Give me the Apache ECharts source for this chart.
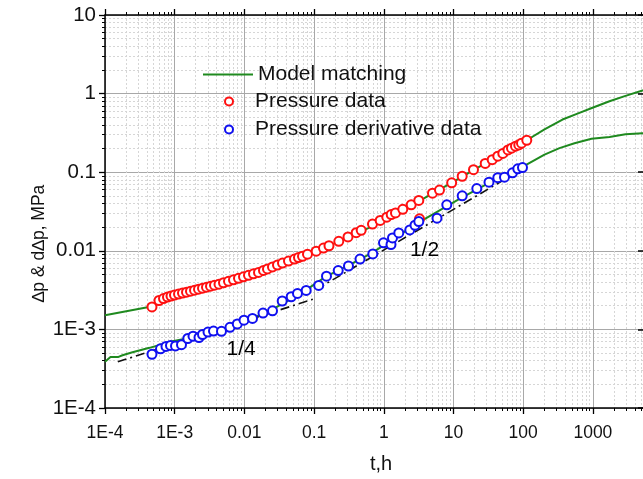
<!DOCTYPE html>
<html><head><meta charset="utf-8">
<script src="https://cdn.jsdelivr.net/npm/echarts@6/dist/echarts.min.js"></script>
<style>html,body{margin:0;padding:0;background:#fff}#c{width:643px;height:479px}</style>
</head><body><div id="c"></div>
<script>
// ---- data ----
const pressureT = [4.72e-4, 5.95e-4, 6.91e-4, 7.88e-4, 8.85e-4, 9.93e-4, 1.134e-3, 1.294e-3, 1.477e-3, 1.685e-3,
  1.924e-3, 2.196e-3, 2.506e-3, 2.859e-3, 3.263e-3, 3.724e-3, 4.321e-3, 5.013e-3, 5.913e-3, 6.977e-3,
  8.23e-3, 9.71e-3, 1.145e-2, 1.351e-2, 1.594e-2, 1.879e-2, 2.145e-2, 2.53e-2, 2.985e-2, 3.521e-2,
  4.292e-2, 5.234e-2, 5.973e-2, 6.818e-2, 8.04e-2, 0.1072, 0.1364, 0.1636, 0.2262, 0.3065,
  0.4018, 0.474, 0.6884, 0.8879, 1.104, 1.277, 1.472, 1.873, 2.473, 3.178,
  3.252, 4.996, 6.297, 9.42, 13.33, 19.36, 28.5, 35.92, 43.21, 50.97,
  60.53, 67.94, 77.53, 86.48, 94.54, 112.6];
const pressureP = [1.932e-3, 2.332e-3, 2.47e-3, 2.58e-3, 2.655e-3, 2.733e-3, 2.813e-3, 2.895e-3, 2.98e-3, 3.068e-3,
  3.158e-3, 3.25e-3, 3.346e-3, 3.444e-3, 3.545e-3, 3.649e-3, 3.756e-3, 3.922e-3, 4.095e-3, 4.276e-3,
  4.466e-3, 4.664e-3, 4.871e-3, 5.087e-3, 5.312e-3, 5.628e-3, 5.877e-3, 6.226e-3, 6.596e-3, 6.988e-3,
  7.403e-3, 7.843e-3, 8.19e-3, 8.5e-3, 9.06e-3, 9.88e-3, 1.084e-2, 1.159e-2, 1.32e-2, 1.503e-2,
  1.702e-2, 1.824e-2, 2.188e-2, 2.434e-2, 2.679e-2, 2.895e-2, 3.032e-2, 3.374e-2, 3.843e-2, 4.378e-2,
  2.55e-2, 5.4e-2, 5.93e-2, 7.32e-2, 8.88e-2, 0.1078, 0.1293, 0.1443, 0.1597, 0.1732,
  0.1921, 0.2024, 0.2144, 0.2226, 0.2338, 0.2549];

const derivT = [4.72e-4, 6.26e-4, 7.5e-4, 8.7e-4, 1.027e-3, 1.252e-3, 1.542e-3, 1.831e-3, 2.232e-3, 2.506e-3,
  3.005e-3, 3.603e-3, 4.692e-3, 6.214e-3, 7.91e-3, 9.87e-3, 1.307e-2, 1.849e-2, 2.53e-2, 3.486e-2,
  4.692e-2, 5.778e-2, 7.7e-2, 0.1164, 0.1506, 0.2218, 0.3115, 0.4556, 0.6953, 0.99,
  1.269, 1.333, 1.641, 2.36, 2.803, 3.178, 5.8, 8.015, 13.33, 21.6,
  32.31, 43.21, 53.91, 70.23, 83.66, 97.7];
const derivP = [4.83e-4, 5.66e-4, 6.08e-4, 6.26e-4, 6.17e-4, 6.39e-4, 7.66e-4, 8.19e-4, 7.89e-4, 8.61e-4,
  9.25e-4, 9.52e-4, 9.44e-4, 1.062e-3, 1.172e-3, 1.308e-3, 1.378e-3, 1.611e-3, 1.721e-3, 2.298e-3,
  2.602e-3, 2.871e-3, 3.13e-3, 3.628e-3, 4.759e-3, 5.596e-3, 6.408e-3, 7.843e-3, 9.12e-3, 1.264e-2,
  1.203e-2, 1.46e-2, 1.687e-2, 1.84e-2, 2.113e-2, 2.351e-2, 2.602e-2, 3.843e-2, 5.01e-2, 6.19e-2,
  7.47e-2, 8.51e-2, 8.63e-2, 9.83e-2, 0.1103, 0.1146];

const modelPressureT = [1e-4, 4.65e-4, 9.93e-4, 3.158e-3, 1.003e-2, 3.189e-2, 0.1013, 0.322, 1.023, 3.252,
  10.33, 32.85, 112.6, 202.1, 366.3, 601.2, 987, 1730, 2936, 5149, 1e4];
const modelPressureV = [1.511e-3, 1.961e-3, 2.655e-3, 3.524e-3, 4.664e-3, 6.69e-3, 9.6e-3, 1.503e-2, 2.424e-2, 4.314e-2,
  7.69e-2, 0.139, 0.2549, 0.3503, 0.4677, 0.5562, 0.6615, 0.7982, 0.9357, 1.097, 1.323];

const modelDerivT = [1e-4, 1.051e-4, 1.199e-4, 1.562e-4, 1.783e-4, 2.48e-4, 4.35e-4, 9.3e-4, 2.269e-3, 5.48e-3,
  1.183e-2, 2.555e-2, 6.17e-2, 0.1492, 0.322, 0.6884, 1.68, 3.836, 12.2, 32.85,
  97.7, 202.1, 331.7, 544.5, 954.8, 1730, 2936, 5149, 1e4];
const modelDerivV = [3.867e-4, 4.003e-4, 4.467e-4, 4.467e-4, 4.69e-4, 5.114e-4, 5.826e-4, 7.09e-4, 8.24e-4, 1.062e-3,
  1.327e-3, 1.808e-3, 2.789e-3, 4.73e-3, 6.635e-3, 9.47e-3, 1.592e-2, 2.528e-2, 4.571e-2, 7.36e-2,
  0.1169, 0.1677, 0.2024, 0.2338, 0.2662, 0.2813, 0.3032, 0.3121, 0.3167];

const slopeQuarterT = [1.526e-4, 9.58e-2];
const slopeQuarterP = [3.867e-4, 2.414e-3];
const slopeHalfT = [0.1072, 75.0];
const slopeHalfP = [3.223e-3, 9.55e-2];

const slopeLabelText = ['1/4', '1/2'];
const slopeLabelT = [9.0e-3, 3.84];
const slopeLabelP = [5.58e-4, 1.032e-2];

const xMin = 1e-4, xMax = 5236;   // right edge of the visible plot
const xTickValues = [1e-4, 1e-3, 0.01, 0.1, 1, 10, 100, 1000];
const xTickLabels = ['1E-4', '1E-3', '0.01', '0.1', '1', '10', '100', '1000'];
const yTickValues = [1e-4, 1e-3, 0.01, 0.1, 1, 10];
const yTickLabels = ['1E-4', '1E-3', '0.01', '0.1', '1', '10'];

const legendNames = ['Model matching', 'Pressure data', 'Pressure derivative data'];
const xTitle = 't,h';
const yTitle = '\u2206p & d\u2206p, MPa';

// ---- helpers ----
const zip = (a, b) => a.map((v, i) => [v, b[i]]);
function minorValues(majors, hi) {
  const out = [];
  for (let i = 0; i < majors.length; i++) {
    for (let m = 2; m <= 9; m++) {
      const v = parseFloat((m * majors[i]).toPrecision(6));
      if (v <= hi) out.push(v);
    }
  }
  return out;
}
const xMinor = minorValues(xTickValues, xMax);
const yMinor = minorValues(yTickValues.slice(0, -1), 10);
const labelFor = (vals, labels) => (v) => {
  const k = vals.findIndex(t => Math.abs(Math.log10(t) - Math.log10(v)) < 1e-6);
  return k >= 0 ? labels[k] : '';
};

const FONT = "'Liberation Sans', Arial, sans-serif";
const GREEN = '#1f8a1f';
const RED = '#ff1010';
const BLUE = '#1010f0';
const MAJOR_GRID = '#a8a8a8';
const MINOR_GRID = '#d6d6d6';

const xBase = {type: 'log', logBase: 10, min: xMin, max: xMax, gridIndex: 0};
const yBase = {type: 'log', logBase: 10, min: yTickValues[0], max: yTickValues[yTickValues.length - 1], gridIndex: 0};
const axisLineStyle = {show: true, onZero: false, lineStyle: {color: '#000', width: 1.5}};

const option = {
  animation: false,
  textStyle: {fontFamily: FONT},
  grid: {left: 105, top: 15, right: 0, bottom: 65, containLabel: false},
  graphic: [{
    type: 'text', x: 39.5, y: 243.5, rotation: Math.PI / 2, silent: true,
    style: {text: yTitle, fontSize: 17.5, fontFamily: FONT, fill: '#111',
      align: 'center', verticalAlign: 'middle', textAlign: 'center', textVerticalAlign: 'middle'}
  }],
  legend: [
    {
      data: [legendNames[0]], left: 203, top: 64, padding: 0, itemWidth: 50, itemHeight: 2, icon: 'rect',
      itemStyle: {color: GREEN},
      textStyle: {fontSize: 21, color: '#111', fontFamily: FONT}, selectedMode: false
    },
    {
      data: [legendNames[1], legendNames[2]], orient: 'vertical', left: 224, top: 91, padding: 0,
      itemWidth: 42, itemHeight: 8, itemGap: 7,
      textStyle: {fontSize: 21, color: '#111', fontFamily: FONT}, selectedMode: false
    }
  ],
  xAxis: [
    Object.assign({}, xBase, {
      position: 'bottom', axisLine: axisLineStyle,
      axisTick: {show: true, inside: false, length: 6, customValues: xTickValues, lineStyle: {color: '#000', width: 1.3}},
      axisLabel: {show: true, customValues: xTickValues, formatter: labelFor(xTickValues, xTickLabels),
        fontSize: 17.5, color: '#111', margin: 16, fontFamily: FONT},
      splitLine: {show: true, lineStyle: {color: MAJOR_GRID, width: 1}},
      name: xTitle, nameLocation: 'middle', nameGap: 46,
      nameTextStyle: {fontSize: 20, color: '#111', fontFamily: FONT, padding: [0, 0, 0, 14]}
    }),
    Object.assign({}, xBase, {
      position: 'bottom', axisLine: {show: false, onZero: false},
      axisTick: {show: true, inside: false, length: 3, customValues: xMinor, lineStyle: {color: '#000', width: 1}},
      axisLabel: {show: false},
      splitLine: {show: true, lineStyle: {color: MINOR_GRID, width: 1, type: [2, 2]}}
    }),
    Object.assign({}, xBase, {
      position: 'top', axisLine: axisLineStyle,
      axisTick: {show: true, inside: false, length: 6, customValues: xTickValues, lineStyle: {color: '#000', width: 1.3}},
      axisLabel: {show: false}, splitLine: {show: false}
    }),
    Object.assign({}, xBase, {
      position: 'top', axisLine: {show: false, onZero: false},
      axisTick: {show: true, inside: false, length: 3, customValues: xMinor, lineStyle: {color: '#000', width: 1}},
      axisLabel: {show: false}, splitLine: {show: false}
    })
  ],
  yAxis: [
    Object.assign({}, yBase, {
      position: 'left', axisLine: axisLineStyle,
      axisTick: {show: true, inside: false, length: 6, customValues: yTickValues, lineStyle: {color: '#000', width: 1.3}},
      axisLabel: {show: true, customValues: yTickValues, formatter: labelFor(yTickValues, yTickLabels),
        fontSize: 20.5, color: '#111', margin: 9, fontFamily: FONT},
      splitLine: {show: true, lineStyle: {color: MAJOR_GRID, width: 1}}
    }),
    Object.assign({}, yBase, {
      position: 'left', axisLine: {show: false, onZero: false},
      axisTick: {show: true, inside: false, length: 3, customValues: yMinor, lineStyle: {color: '#000', width: 1}},
      axisLabel: {show: false},
      splitLine: {show: true, lineStyle: {color: MINOR_GRID, width: 1, type: [2, 2]}}
    }),
    Object.assign({}, yBase, {
      position: 'right', axisLine: {show: false, onZero: false},
      axisTick: {show: true, inside: true, length: 5, customValues: yTickValues, lineStyle: {color: '#000', width: 1.5}},
      axisLabel: {show: false}, splitLine: {show: false}
    })
  ],
  series: [
    {
      name: legendNames[0], type: 'line', xAxisIndex: 0, yAxisIndex: 0,
      data: zip(modelPressureT, modelPressureV), symbol: 'none', smooth: false,
      lineStyle: {color: GREEN, width: 2}, itemStyle: {color: GREEN}, z: 3
    },
    {
      name: legendNames[0], type: 'line', xAxisIndex: 0, yAxisIndex: 0,
      data: zip(modelDerivT, modelDerivV), symbol: 'none', smooth: false,
      lineStyle: {color: GREEN, width: 2}, itemStyle: {color: GREEN}, z: 3
    },
    {
      name: 'slope 1/4', type: 'line', xAxisIndex: 0, yAxisIndex: 0,
      data: zip(slopeQuarterT, slopeQuarterP), symbol: 'none',
      lineStyle: {color: '#111', width: 1.6, type: [9, 4, 2, 4]}, z: 4
    },
    {
      name: 'slope 1/2', type: 'line', xAxisIndex: 0, yAxisIndex: 0,
      data: zip(slopeHalfT, slopeHalfP), symbol: 'none',
      lineStyle: {color: '#111', width: 1.6, type: [9, 4, 2, 4]}, z: 4
    },
    {
      name: legendNames[1], type: 'scatter', xAxisIndex: 0, yAxisIndex: 0,
      data: zip(pressureT, pressureP), symbol: 'emptyCircle', symbolSize: 9,
      itemStyle: {color: RED, borderColor: RED, borderWidth: 1.5, opacity: 1}, z: 5
    },
    {
      name: legendNames[2], type: 'scatter', xAxisIndex: 0, yAxisIndex: 0,
      data: zip(derivT, derivP), symbol: 'emptyCircle', symbolSize: 9,
      itemStyle: {color: BLUE, borderColor: BLUE, borderWidth: 1.5, opacity: 1}, z: 5
    },
    {
      name: 'slope labels', type: 'scatter', xAxisIndex: 0, yAxisIndex: 0, symbolSize: 1,
      itemStyle: {color: 'rgba(0,0,0,0)', opacity: 1},
      data: slopeLabelT.map((t, i) => ({value: [t, slopeLabelP[i]], label: {formatter: slopeLabelText[i]}})),
      label: {show: true, position: 'inside', fontSize: 21, color: '#000', opacity: 1, fontFamily: FONT},
      z: 6, silent: true
    }
  ]
};
const chart = echarts.init(document.getElementById('c'), null, {renderer: 'canvas'});
chart.setOption(option);
</script>
</body></html>
